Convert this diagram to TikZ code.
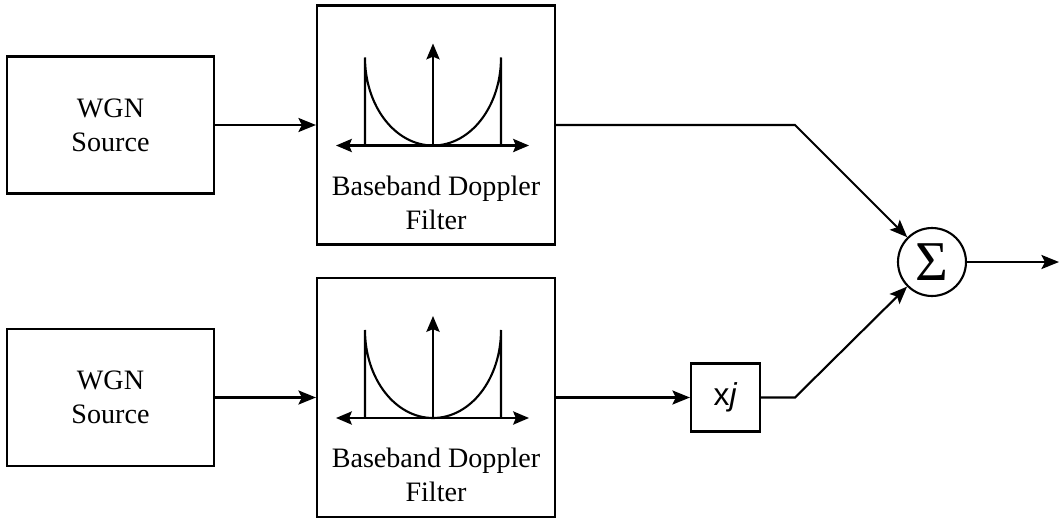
\documentclass[tikz,border=0pt]{standalone}
\usepackage{fontspec}
\setmainfont{Liberation Serif}
\setsansfont{Liberation Sans}
\usetikzlibrary{shapes,arrows.meta,positioning}

\begin{document}
\begin{tikzpicture}[x=0.02cm, y=-0.02cm, line width=1.2pt,
        >={Stealth[length=10pt, width=8pt, inset=2pt]},
        source/.style={rectangle, draw, minimum width=4.14cm, minimum height=2.74cm, align=center, font=\fontsize{16}{19.5}\selectfont},
        filter/.style={rectangle, draw, minimum width=4.76cm, minimum height=4.78cm},
        caption/.style={align=center, inner sep=0pt, font=\fontsize{16}{19.5}\selectfont},
        gain/.style={rectangle, draw, minimum width=1.38cm, minimum height=1.36cm, font=\sffamily\fontsize{18}{20}\selectfont},
        adder/.style={circle, draw, minimum size=1.36cm, inner sep=0pt, font=\fontsize{32}{32}\selectfont},
        arrow/.style={->},
        axis/.style={line width=1.2pt, >={Stealth[length=9pt, width=7.5pt, inset=1.5pt]}}]

    \useasboundingbox (0,0) rectangle (1059,518);

    % Noise sources and Doppler filters (upper and lower branch)
    \foreach \i/\yy in {1/125, 2/397.5} {
        \node[source] (wgn\i) at (110.5,\yy) {WGN\\Source};
        \node[filter] (filt\i) at (436,\yy) {};
        \node[caption, anchor=north] (cap\i) at ([yshift=-3.4cm]filt\i.north) {Baseband Doppler\\Filter};
        % Doppler spectrum sketch
        \begin{scope}[shift={(433,\yy-119.5)}, axis]
            \draw[<->] (-97,140) -- (96,140);
            \draw[->] (0,140) -- (0,38);
            \draw (-68,140) -- (-68,52) .. controls (-68,101) and (-37.5,140) .. (0,140)
                .. controls (37.5,140) and (68,101) .. (68,52) -- (68,140);
        \end{scope}
        \draw[arrow] (wgn\i) -- (filt\i);
    }

    % Phase shift and summation
    \node[gain] (gain) at (725.5,397.5) {x\textit{j}};
    \node[adder] (sum) at (932,262) {Σ};

    \coordinate (bend1) at (795,125);
    \coordinate (bend2) at (795,397.5);
    \coordinate (out) at (1059,262);

    % Arrows
    \draw[arrow] (filt1.east) -- (bend1) -- (sum);
    \draw[arrow] (filt2) -- (gain);
    \draw[arrow] (gain) -- (bend2) -- (sum);
    \draw[arrow] (sum) -- (out);
\end{tikzpicture}
\end{document}
